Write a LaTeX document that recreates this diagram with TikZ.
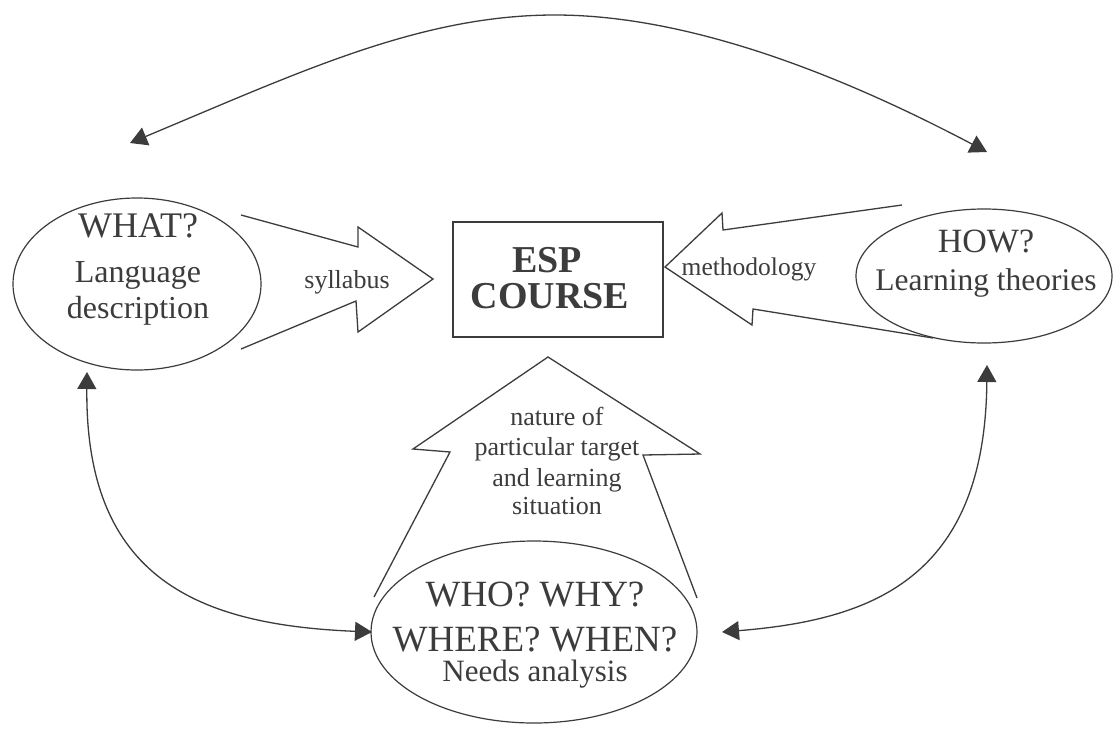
\documentclass[tikz,border=0pt]{standalone}
\usepackage{fontspec}
\setmainfont{Liberation Serif}
\usetikzlibrary{arrows.meta,shapes.geometric}
\definecolor{ink}{HTML}{3C3C3C}
\begin{document}
\begin{tikzpicture}[x=1pt,y=-1pt,
  oval/.style={ellipse, draw=ink, line width=1.2pt, inner sep=0pt},
  espbox/.style={rectangle, draw=ink, line width=1.3pt, inner sep=0pt},
  conn/.style={draw=ink, line width=1.3pt,
    {Triangle[length=17pt,width=19pt]}-{Triangle[length=17pt,width=19pt]}},
  blockarrow/.style={draw=ink, line width=1.3pt, line join=miter},
  txt/.style={text=ink, inner sep=0pt, anchor=base},
  big/.style={txt, font=\fontsize{36}{40}\selectfont},
  mid/.style={txt, font=\fontsize{32}{36}\selectfont},
  huge/.style={txt, font=\fontsize{37}{40}\selectfont},
  small/.style={txt, font=\fontsize{26}{30}\selectfont},
  boldt/.style={txt, font=\fontsize{38}{42}\selectfont\bfseries}
]
\fill[white] (0,0) rectangle (1114,729);
\useasboundingbox (0,0) rectangle (1114,729);

% ellipses and box
\node[oval, minimum width=248pt, minimum height=172pt] (what) at (137,284) {};
\node[oval, minimum width=256pt, minimum height=134pt] (how) at (984,276) {};
\node[oval, minimum width=326pt, minimum height=182pt] (who) at (534,632) {};
\node[espbox, minimum width=210pt, minimum height=115pt] (esp) at (558,279.5) {};

% texts
\node[big] (what1) at (138,237) {WHAT?};
\node[mid] (what2) at (138,282) {Language};
\node[mid] (what3) at (138,318) {description};

\node[txt, font=\fontsize{34}{38}\selectfont] (how1) at (986,252) {HOW?};
\node[txt, font=\fontsize{31.5}{36}\selectfont] (how2) at (986,290) {Learning theories};

\node[huge] (who1) at (535,606) {WHO? WHY?};
\node[huge] (who2) at (535,651) {WHERE? WHEN?};
\node[txt, font=\fontsize{31}{34}\selectfont] (who3) at (535,681) {Needs analysis};

\node[boldt] (esp1) at (547,272) {ESP};
\node[boldt] (esp2) at (550,308) {COURSE};

\node[small] (syl) at (347,288) {syllabus};
\node[txt, font=\fontsize{25.5}{30}\selectfont] (meth) at (749,275) {methodology};

\node[small] (nat1) at (557,425) {nature of};
\node[small] (nat2) at (557,455) {particular target};
\node[small] (nat3) at (557,486) {and learning};
\node[small] (nat4) at (557,514) {situation};

% block arrows
\draw[blockarrow] (241,215) -- (358,247) -- (358,227) -- (433,279) -- (358,332) -- (356,301) -- (241,349);
\draw[blockarrow] (902,205) -- (723,230) -- (722,213) -- (665,267) -- (752,325) -- (753,309) -- (933,338);
\draw[blockarrow] (374,597) -- (450,452) -- (413,449) -- (548,357) -- (700,454) -- (643,455) -- (697,598);

% connectors
\coordinate (tl) at (130,143);
\coordinate (tr) at (987,152);
\coordinate (lt) at (87,372);
\coordinate (lb) at (372,632);
\coordinate (rt) at (987,365);
\coordinate (rb) at (722,632);
\draw[conn] (tl) .. controls (300,72) and (420,15) .. (555,15)
  .. controls (700,15) and (860,85) .. (tr);
\draw[conn] (lt) .. controls (85,580) and (200,625) .. (lb);
\draw[conn] (rt) .. controls (985,580) and (870,620) .. (rb);
\end{tikzpicture}
\end{document}
